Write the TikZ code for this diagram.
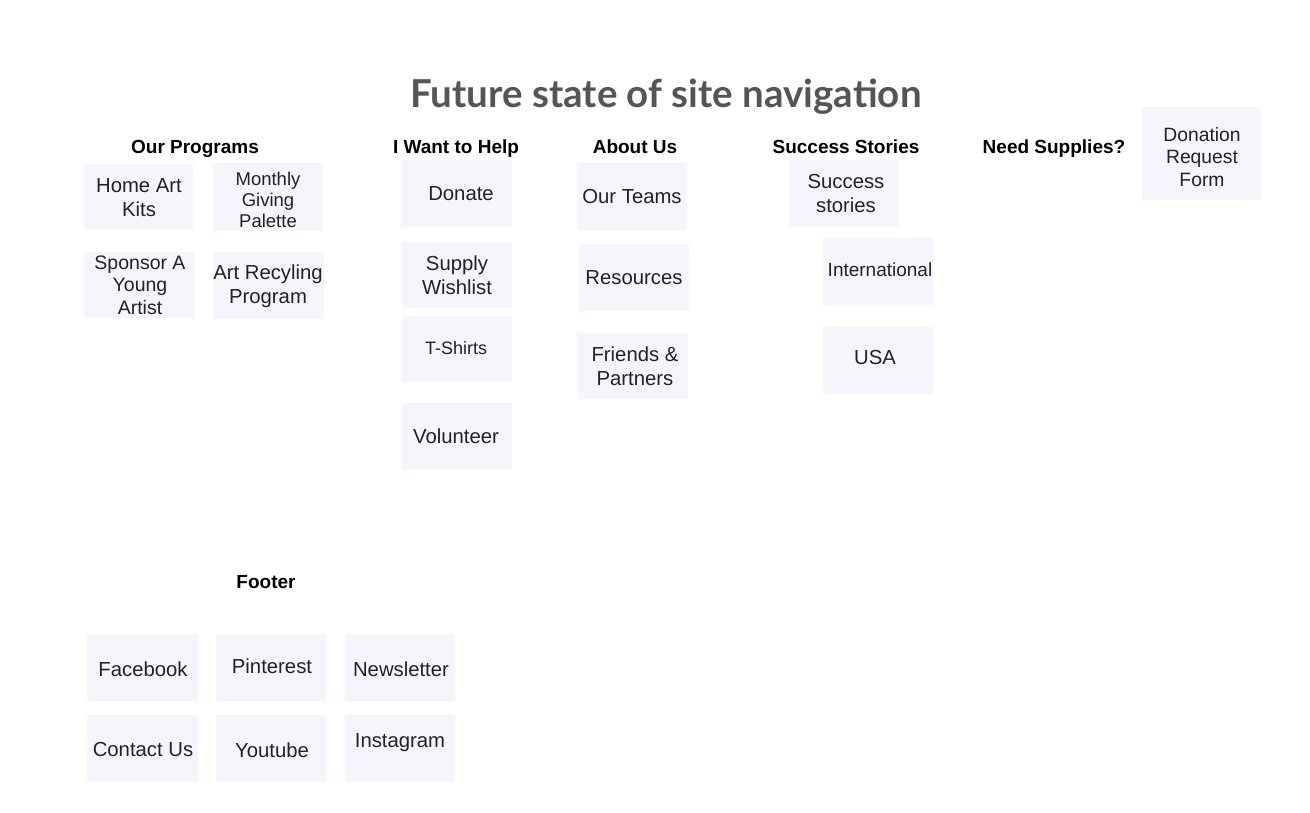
\documentclass[tikz,border=0pt]{standalone}
\usepackage{fontspec}
\setmainfont{Liberation Sans}
\newfontfamily\titlefont{Lato}
\definecolor{boxc}{HTML}{F7F5FB}
\definecolor{titlec}{HTML}{555555}
\definecolor{txtc}{HTML}{222222}
\tikzset{
  boxst/.style={fill=boxc, draw=none},
  lbl/.style={font=\fontsize{20.3}{24}\selectfont, text=txtc, align=center, inner sep=0pt},
  slbl/.style={font=\fontsize{18.5}{21}\selectfont, text=txtc, align=center, inner sep=0pt},
  head/.style={font=\fontsize{19}{21}\selectfont\bfseries, text=black, inner sep=0pt, anchor=base},
}
% name, x1, y1, x2, y2
\newcommand{\bxx}[5]{\fill[boxst] (#2,#3) rectangle (#4,#5); \coordinate (#1) at ({(#2+#4)/2},{(#3+#5)/2});}
\begin{document}
\begin{tikzpicture}[x=1pt,y=-1pt]
\useasboundingbox (0,0) rectangle (1310,812);
\fill[white] (0,0) rectangle (1310,812);
\node[font=\fontsize{38.5}{41}\selectfont\titlefont\bfseries, text=titlec, inner sep=0pt] (title) at (666,97) {Future state of site navigation};

% headings
\node[head] (h1) at (195,153) {Our Programs};
\node[head] (h2) at (456,153) {I Want to Help};
\node[head] (h3) at (635,153) {About Us};
\node[head] (h4) at (846,153) {Success Stories};
\node[head] (h5) at (1054,153) {Need Supplies?};
\node[head] (h6) at (266,588) {Footer};

% Our Programs
\bxx{b1}{84}{164}{193}{230}
\node[lbl] (t1) at (139,198) {Home Art\\Kits};
\bxx{b2}{213}{163}{323}{231}
\node[slbl] (t2) at (268,200) {Monthly\\Giving\\Palette};
\bxx{b3}{84}{252}{195}{318}
\node[slbl, font=\fontsize{19.5}{22.5}\selectfont] (t3) at (140,285) {Sponsor A\\Young\\Artist};
\bxx{b4}{213}{252}{324}{319}
\node[lbl] (t4) at (268,286) {Art Recyling\\Program};

% I Want to Help
\bxx{b5}{402}{160}{512}{227}
\node[lbl] (t5) at (461,194) {Donate};
\bxx{b6}{402}{242}{512}{308}
\node[lbl] (t6) at (457,275) {Supply\\Wishlist};
\bxx{b7}{402}{316}{512}{382}
\node[slbl, font=\fontsize{18}{20}\selectfont] (t7) at (456,348) {T-Shirts};
\bxx{b8}{402}{403}{512}{470}
\node[lbl] (t8) at (456,436) {Volunteer};

% About Us
\bxx{b9}{577}{163}{687}{231}
\node[lbl] (t9) at (632,197) {Our Teams};
\bxx{b10}{579}{244}{689}{311}
\node[lbl] (t10) at (634,278) {Resources};
\bxx{b11}{578}{333}{688}{399}
\node[lbl] (t11) at (635,366) {Friends \&\\Partners};

% Success Stories
\bxx{b12}{789}{160}{899}{227}
\node[lbl] (t12) at (846,194) {Success\\stories};
\bxx{b13}{823}{238}{933}{305}
\node[slbl, font=\fontsize{19}{21}\selectfont] (t13) at (880,270) {International};
\bxx{b14}{823}{327}{933}{394}
\node[lbl] (t14) at (875,358) {USA};

% Need Supplies
\bxx{b15}{1142}{107}{1261}{200}
\node[slbl, font=\fontsize{19.3}{22.5}\selectfont] (t15) at (1202,157) {Donation\\Request\\Form};

% Footer
\bxx{b16}{87}{634}{198}{701}
\node[lbl] (t16) at (143,669) {Facebook};
\bxx{b17}{216}{634}{326}{701}
\node[lbl] (t17) at (272,666) {Pinterest};
\bxx{b18}{345}{634}{455}{701}
\node[lbl] (t18) at (401,669) {Newsletter};
\bxx{b19}{87}{715}{198}{782}
\node[lbl] (t19) at (143,750) {Contact Us};
\bxx{b20}{216}{715}{326}{782}
\node[lbl] (t20) at (272,750) {Youtube};
\bxx{b21}{345}{715}{455}{782}
\node[lbl] (t21) at (400,743) {Instagram};
\end{tikzpicture}
\end{document}
